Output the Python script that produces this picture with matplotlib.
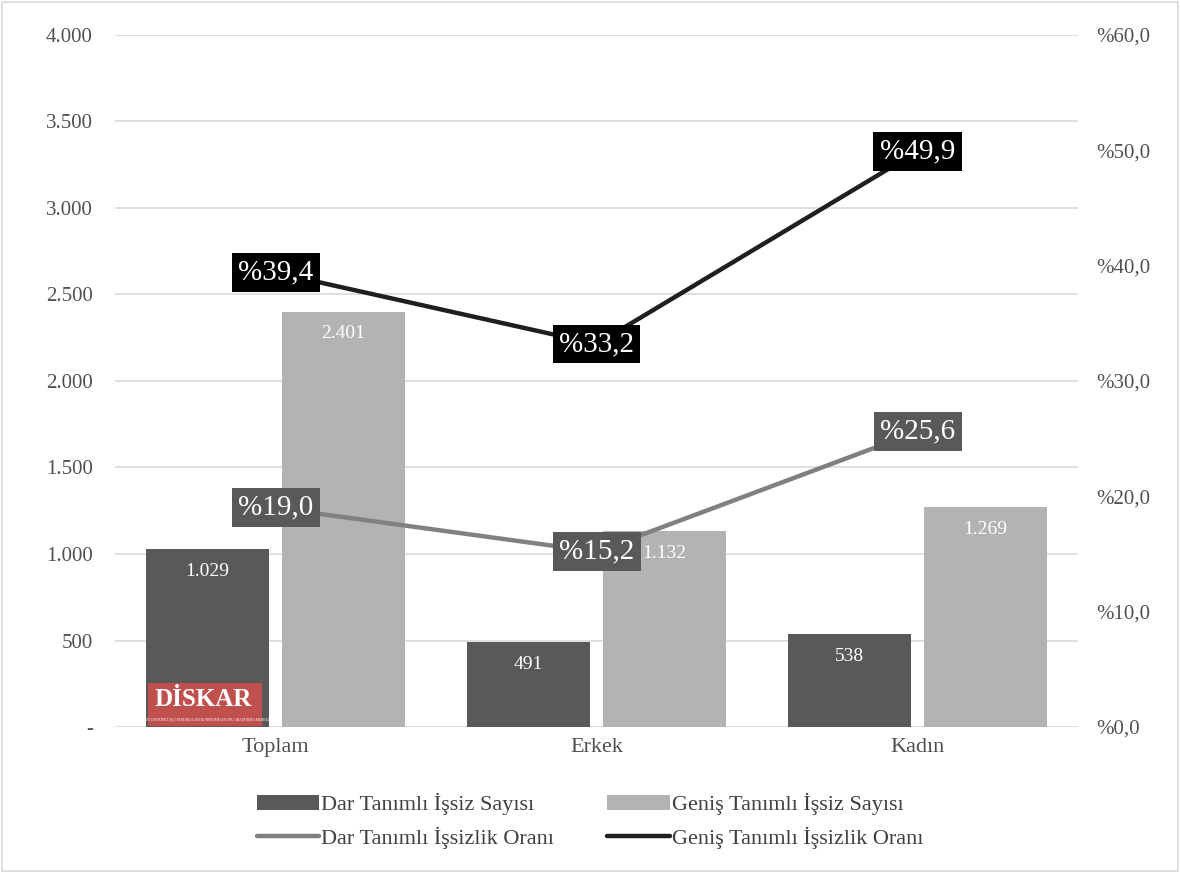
import numpy as np
import matplotlib.pyplot as plt
from matplotlib.patches import Rectangle

# Data
categories = ["Toplam", "Erkek", "Kadın"]
dar_sayi = [1029, 491, 538]
genis_sayi = [2401, 1132, 1269]
dar_oran = [19.0, 15.2, 25.6]
genis_oran = [39.4, 33.2, 49.9]

plt.rcParams['font.family'] = ['Liberation Serif', 'DejaVu Serif']

c_dark = "#595959"
c_light = "#b3b3b3"
c_line_dar = "#808080"
c_line_genis = "#1f1f1f"


def fmt_thousands(v):
    return "{:,}".format(int(v)).replace(",", ".")


fig = plt.figure(figsize=(11.8, 8.73), dpi=100)
ax = fig.add_axes([0.0975, 0.1672, 0.8161, 0.7928])
ax2 = ax.twinx()

x = np.arange(len(categories))
w = 0.383
off = 0.212

b1 = ax.bar(x - off, dar_sayi, w, color=c_dark, label="Dar Tanımlı İşsiz Sayısı", zorder=2)
b2 = ax.bar(x + off, genis_sayi, w, color=c_light, label="Geniş Tanımlı İşsiz Sayısı", zorder=2)

for bars, vals in [(b1, dar_sayi), (b2, genis_sayi)]:
    for rect, v in zip(bars, vals):
        ax.text(rect.get_x() + rect.get_width() / 2, v - 80, fmt_thousands(v),
                ha="center", va="top", color="white", fontsize=14, zorder=3)

ax.set_ylim(0, 4000)
ax.set_xlim(-0.5, 2.5)
ax.set_yticks(np.arange(0, 4001, 500))
ax.set_yticklabels(["-"] + [fmt_thousands(v) for v in np.arange(500, 4001, 500)])
ax.set_xticks(x)
ax.set_xticklabels(categories)
ax.yaxis.grid(True, color="#d9d9d9", linewidth=1.2, zorder=0)
ax.set_axisbelow(True)

l1, = ax2.plot(x, dar_oran, color=c_line_dar, linewidth=3.2, solid_capstyle="round",
               label="Dar Tanımlı İşsizlik Oranı", zorder=4)
l2, = ax2.plot(x, genis_oran, color=c_line_genis, linewidth=3.2, solid_capstyle="round",
               label="Geniş Tanımlı İşsizlik Oranı", zorder=4)
ax2.set_ylim(0, 60)
ax2.set_yticks(np.arange(0, 61, 10))
ax2.set_yticklabels(["%{:.1f}".format(v).replace(".", ",") for v in np.arange(0, 61, 10)])

for vals, col in [(dar_oran, c_dark), (genis_oran, "black")]:
    for xi, v in zip(x, vals):
        ax2.text(xi, v, "%{:.1f}".format(v).replace(".", ","),
                 ha="center", va="center", color="white", fontsize=21, zorder=5,
                 bbox=dict(boxstyle="square,pad=0.22", facecolor=col, edgecolor="none"))

for a in (ax, ax2):
    for s in a.spines.values():
        s.set_visible(False)
    a.tick_params(length=0, labelsize=15, colors="#505050")
ax.tick_params(axis="y", pad=16)
ax2.tick_params(axis="y", pad=13)
ax.tick_params(axis="x", pad=8, labelsize=16)

fig.legend([b1, l1, b2, l2],
           [b1.get_label(), l1.get_label(), b2.get_label(), l2.get_label()],
           loc="lower center", bbox_to_anchor=(0.5, 0.005), ncol=2, frameon=False,
           fontsize=16, handlelength=2.8, handletextpad=0.1, columnspacing=2.4,
           labelcolor="#404040")

# DİSKAR logo on the first bar
fig.patches.append(Rectangle((0.125, 0.168), 0.097, 0.05, transform=fig.transFigure,
                             facecolor="#c0504d", edgecolor="none", zorder=10))
fig.text(0.172, 0.199, "DİSKAR", transform=fig.transFigure, ha="center", va="center",
         color="white", fontsize=18, fontweight="bold", zorder=11)
fig.text(0.172, 0.176, "TÜRKİYE DEVRİMCİ İŞÇİ SENDİKALARI KONFEDERASYONU ARAŞTIRMA MERKEZİ",
         transform=fig.transFigure, ha="center", va="center", color="white", fontsize=2.5, zorder=11)

# Outer border
fig.patches.append(Rectangle((0.002, 0.002), 0.996, 0.996, transform=fig.transFigure,
                             facecolor="none", edgecolor="#d9d9d9", linewidth=1.2))

fig.savefig("out.png", dpi=100)
